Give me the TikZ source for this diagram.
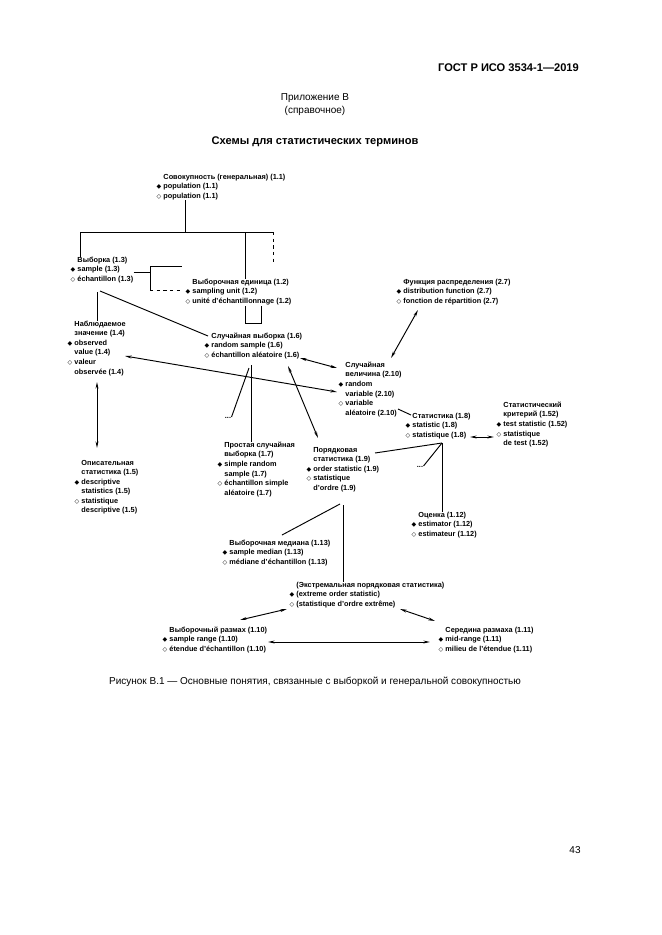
\documentclass[tikz,border=0pt]{standalone}
\usepackage{fontspec}
\setmainfont{Liberation Sans}
\newfontfamily\dejavu{DejaVu Sans}
\usetikzlibrary{arrows.meta}

\newcommand{\blk}{\makebox[0pt][r]{{\dejavu\fontsize{5.5}{5.5}\selectfont ◆}\hspace{2pt}}}
\newcommand{\wht}{\makebox[0pt][r]{{\dejavu\fontsize{5.5}{5.5}\selectfont ◇}\hspace{2pt}}}

\begin{document}
\begin{tikzpicture}[x=0.9006pt,y=-0.9006pt,line width=0.85pt]
\tikzstyle{term}=[anchor=north west,align=left,inner sep=0pt,font=\fontsize{6.6}{8.6}\selectfont\bfseries]
\tikzstyle{conn}=[-]
\tikzstyle{twoway}=[{Stealth[length=6pt,width=2.6pt]}-{Stealth[length=6pt,width=2.6pt]}]
%% page %%
\path[fill=white] (0,0) rectangle (661,935);
\useasboundingbox (0,0) rectangle (661,935);
\node[anchor=east,font=\fontsize{10}{12}\selectfont\bfseries] (gost) at (583,68) {ГОСТ Р ИСО 3534-1—2019};
\node[font=\fontsize{9}{11}\selectfont] (app) at (315,98) {Приложение В};
\node[font=\fontsize{9}{11}\selectfont] (appref) at (315,111) {(справочное)};
\node[font=\fontsize{10}{12}\selectfont\bfseries] (title) at (315,142) {Схемы для статистических терминов};
%% terms %%
\node[term] (pop) at (163,173.5) {Совокупность (генеральная) (1.1)\\\blk population (1.1)\\\wht population (1.1)};
\node[term] (smp) at (77,256.5) {Выборка (1.3)\\\blk sample (1.3)\\\wht échantillon (1.3)};
\node[term] (unit) at (192,278.5) {Выборочная единица (1.2)\\\blk sampling unit (1.2)\\\wht unité d'échantillonnage (1.2)};
\node[term] (obs) at (74,320.5) {Наблюдаемое\\значение (1.4)\\\blk observed\\value (1.4)\\\wht valeur\\observée (1.4)};
\node[term] (rs) at (211,332.5) {Случайная выборка (1.6)\\\blk random sample (1.6)\\\wht échantillon aléatoire (1.6)};
\node[term] (dist) at (403,278.5) {Функция распределения (2.7)\\\blk distribution function (2.7)\\\wht fonction de répartition (2.7)};
\node[term] (rv) at (345,361.5) {Случайная\\величина (2.10)\\\blk random\\variable (2.10)\\\wht variable\\aléatoire (2.10)};
\node[term] (stat) at (412,412.5) {Статистика (1.8)\\\blk statistic (1.8)\\\wht statistique (1.8)};
\node[term] (test) at (503,401.5) {Статистический\\критерий (1.52)\\\blk test statistic (1.52)\\\wht statistique\\de test (1.52)};
\node[term] (desc) at (81,459.5) {Описательная\\статистика (1.5)\\\blk descriptive\\statistics (1.5)\\\wht statistique\\descriptive (1.5)};
\node[term] (srs) at (224,441.5) {Простая случайная\\выборка (1.7)\\\blk simple random\\sample (1.7)\\\wht échantillon simple\\aléatoire (1.7)};
\node[term] (ord) at (313,446.5) {Порядковая\\статистика (1.9)\\\blk order statistic (1.9)\\\wht statistique\\d'ordre (1.9)};
\node[term] (est) at (418,511.5) {Оценка (1.12)\\\blk estimator (1.12)\\\wht estimateur (1.12)};
\node[term] (med) at (229,539.5) {Выборочная медиана (1.13)\\\blk sample median (1.13)\\\wht médiane d'échantillon (1.13)};
\node[term] (ext) at (296,581.5) {(Экстремальная порядковая статистика)\\\blk (extreme order statistic)\\\wht (statistique d'ordre extrême)};
\node[term] (rng) at (169,626.5) {Выборочный размах (1.10)\\\blk sample range (1.10)\\\wht étendue d'échantillon (1.10)};
\node[term] (mid) at (445,626.5) {Середина размаха (1.11)\\\blk mid-range (1.11)\\\wht milieu de l'étendue (1.11)};
\node[term,anchor=center] (dotsA) at (228,418) {...};
\node[term,anchor=center] (dotsB) at (420,467) {...};
%% junctions %%
\coordinate (popJ) at (185,232);
\coordinate (smpJ) at (80,232);
\coordinate (unitJ) at (245,232);
\coordinate (othJ) at (273,232);
\coordinate (rakeT) at (150,266);
\coordinate (rakeB) at (150,290);
\coordinate (statJ) at (442,443);
%% links %%
\draw[conn] (popJ |- pop.south) -- (popJ);
\draw[conn] (smpJ) -- (othJ);
\draw[conn] (smpJ) -- (smpJ |- smp.north);
\draw[conn] (unitJ) -- (unitJ |- unit.north);
\draw[conn,dashed] (othJ) -- ++(0,31) coordinate (othE);
\draw[conn] (smp.east |- 0,272) -- (rakeT |- 0,272);
\draw[conn] (rakeT) -- (rakeB);
\draw[conn] (rakeT) -- ++(32,0) coordinate (rakeTE);
\draw[conn,dashed] (rakeB) -- ++(32,0) coordinate (rakeBE);
\draw[conn] (97,292) coordinate (smpO) -- (smpO |- obs.north);
\draw[conn] (100,291) coordinate (smpR) -- (208,336) coordinate (rsL);
\draw[conn] (245,306) coordinate (unitA) -- (245,323) -- (261,323) -- (261,306) coordinate (unitB);
\draw[conn] (251,365) coordinate (rsS) -- (rsS |- srs.north);
\draw[conn] (249,368) coordinate (rsD) -- (dotsA.north east);
\draw[twoway] (288,366) coordinate (rsO) -- (318,438) coordinate (ordN);
\draw[twoway] (300,358) coordinate (rsE) -- (337,368) coordinate (rvA);
\draw[twoway] (125,356) coordinate (obsE) -- (337,392) coordinate (rvB);
\draw[twoway] (418,310) coordinate (distS) -- (391,358) coordinate (rvN);
\draw[conn] (398,409) coordinate (rvE) -- (411,415) coordinate (statW);
\draw[twoway] (470,437) coordinate (statE) -- (494,437) coordinate (testW);
\draw[conn] (statJ) -- (375,453) coordinate (ordE);
\draw[conn] (statJ) -- (statJ |- est.north);
\draw[conn] (statJ) -- (dotsB.north east);
\draw[conn] (343,505) coordinate (ordS) -- (ordS |- ext.north);
\draw[conn] (340,504) coordinate (ordD) -- (282,535) coordinate (medN);
\draw[twoway] (240,620) coordinate (rngN) -- (287,609) coordinate (extW);
\draw[twoway] (400,609) coordinate (extE) -- (435,621) coordinate (midN);
\draw[twoway] (268,642) coordinate (rngE) -- (430,642) coordinate (midW);
\draw[twoway] (97,382) coordinate (obsS) -- (97,448) coordinate (descN);
%% caption %%
\node[font=\fontsize{9}{11}\selectfont] (cap) at (315,682) {Рисунок В.1 — Основные понятия, связанные с выборкой и генеральной совокупностью};
\node[font=\fontsize{9}{11}\selectfont] (page) at (575,850) {43};
\end{tikzpicture}
\end{document}
